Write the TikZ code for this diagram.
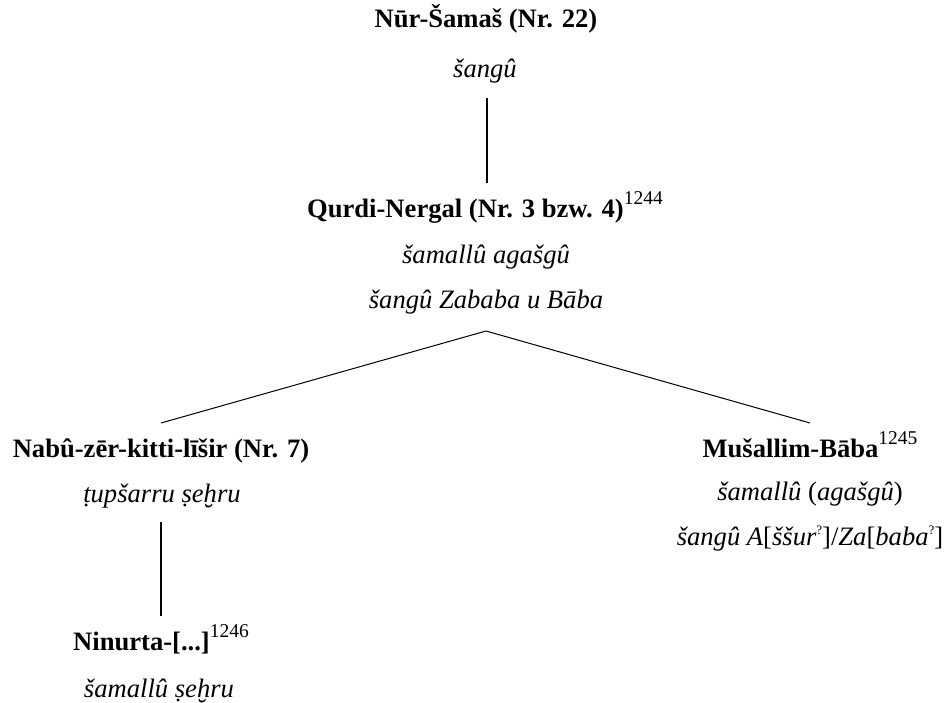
\documentclass[tikz,border=0pt]{standalone}
\usepackage{fontspec}
\setmainfont{Liberation Serif}
\usetikzlibrary{calc}
% footnote reference numbers after a name
\newcommand{\fnref}[1]{\raisebox{13pt}{\fontsize{19.5}{20}\selectfont\mdseries\upshape #1}}
% small raised query mark in restored readings
\newcommand{\qmark}{\raisebox{11pt}{\fontsize{13}{13}\selectfont\upshape ?}}
\begin{document}
\begin{tikzpicture}[x=1pt,y=-1pt,
  every node/.style={inner sep=0pt, anchor=base},
  person/.style={font=\fontsize{26.6}{30}\selectfont\bfseries},
  office/.style={font=\fontsize{26.6}{30}\selectfont\itshape},
  stem/.style={line width=1.5pt},
  branch/.style={line width=1pt}]
\useasboundingbox (0,0) rectangle (950,702);

% generation 1
\node[person] (n1) at (486,27) {Nūr-Šamaš (Nr. 22)};
\node[office] (t1) at (485,77) {šangû};

% generation 2
\node[person] (n2) at (485,217) {Qurdi-Nergal (Nr. 3 bzw. 4)\fnref{1244}};
\node[office] (t2a) at (486,263) {šamallû agašgû};
\node[office] (t2b) at (486,308) {šangû Zababa u Bāba};

% generation 3
\node[person] (n3) at (161,457) {Nabû-zēr-kitti-līšir (Nr. 7)};
\node[office] (t3) at (162,502) {ṭupšarru ṣeḫru};

\node[person] (n4) at (810,457) {Mušallim-Bāba\fnref{1245}};
\node[office] (t4a) at (810,500) {šamallû \upshape(\itshape agašgû\upshape)};
\node[office] (t4b) at (810,545) {šangû A\upshape[\itshape ššur\qmark\upshape]/\itshape Za\upshape[\itshape baba\qmark\upshape]};

% generation 4
\node[person] (n5) at (161,650) {Ninurta-[...]\fnref{1246}};
\node[office] (t5) at (159,697) {šamallû ṣeḫru};

% connectors
\draw[stem] ($(t1.base)+(2,21)$) -- ($(n2.base)+(2,-34)$);
\draw[branch] ($(t2b.base)+(0,23)$) -- ($(n3.base)+(0,-34)$);
\draw[branch] ($(t2b.base)+(0,23)$) -- ($(n4.base)+(0,-34)$);
\draw[stem] ($(t3.base)+(-1,20)$) -- ($(n5.base)+(0,-34)$);
\end{tikzpicture}
\end{document}
